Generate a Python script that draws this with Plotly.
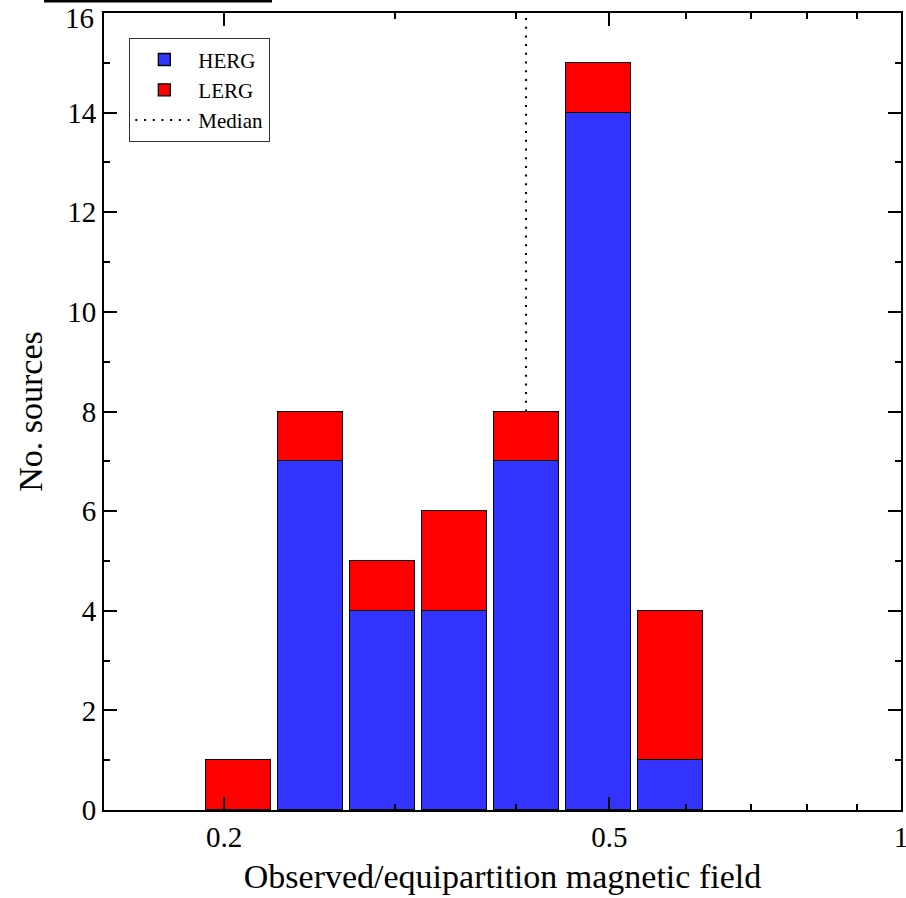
import numpy as np
import plotly.graph_objects as go

# Histogram bins (log-spaced), centers
bin_centers = [0.2071, 0.2457, 0.2916, 0.3460, 0.4106, 0.4873, 0.5781]
herg = [0, 7, 4, 4, 7, 14, 1]
lerg = [1, 1, 1, 2, 1, 1, 3]
median_value = 0.410
bin_dex = 0.0743          # bin width in log10 units
x_major = [0.2, 0.5, 1]
x_major_text = ["0.2", "0.5", "1"]
x_minor = [0.3, 0.4, 0.6, 0.7, 0.8, 0.9]
x_range = [0.1503, 1.0]
y_range = [0, 16]
y_ticks = [0, 2, 4, 6, 8, 10, 12, 14, 16]

FONT = "Liberation Serif"
lx = np.log10(bin_centers)

fig = go.Figure()
fig.add_trace(go.Bar(
    x=lx, y=herg, width=bin_dex * 0.9, name="HERG",
    marker=dict(color="#3333ff", line=dict(color="black", width=1.3)),
))
fig.add_trace(go.Bar(
    x=lx, y=lerg, width=bin_dex * 0.9, name="LERG",
    marker=dict(color="#ff0000", line=dict(color="black", width=1.3)),
))

idx = int(np.argmin(np.abs(lx - np.log10(median_value))))
top = herg[idx] + lerg[idx]
fig.add_trace(go.Scatter(
    x=[np.log10(median_value)] * 2, y=[top, y_range[1]],
    mode="lines", name="Median", xaxis="x2", yaxis="y",
    line=dict(color="black", width=2, dash="2px,6.7px"),
))

xr = [float(np.log10(x_range[0])), float(np.log10(x_range[1]))]
fig.update_layout(
    width=906, height=898,
    margin=dict(l=104, r=5, t=13, b=88, autoexpand=False),
    paper_bgcolor="white", plot_bgcolor="white",
    barmode="stack", bargap=0,
    font=dict(family=FONT, color="black"),
    showlegend=True,
    legend=dict(
        x=0.0314, y=0.9686, xanchor="left", yanchor="top",
        traceorder="normal",
        bgcolor="white", bordercolor="#333333", borderwidth=1.3,
        font=dict(family=FONT, size=21, color="black"),
        itemwidth=58, tracegroupgap=0,
    ),
    xaxis=dict(
        range=xr, tickvals=list(np.log10(x_major)), ticktext=x_major_text,
        ticks="inside", ticklen=13, tickwidth=1.5, tickcolor="black",
        showline=True, linewidth=2, linecolor="black", mirror="ticks",
        showgrid=False, zeroline=False, ticklabeloverflow="allow", automargin=False,
        tickfont=dict(family=FONT, size=29),
        title=dict(text="Observed/equipartition magnetic field",
                   font=dict(family=FONT, size=34), standoff=12),
    ),
    xaxis2=dict(
        overlaying="x", anchor="y", side="bottom", range=xr,
        tickvals=list(np.log10(x_minor)), showticklabels=False,
        ticks="inside", ticklen=6, tickwidth=1.5, tickcolor="black",
        showline=True, linewidth=2, linecolor="black", mirror="ticks",
        showgrid=False, zeroline=False, automargin=False,
    ),
    yaxis=dict(
        range=y_range, tickvals=y_ticks,
        ticktext=[str(v) if v != y_range[1] else " " for v in y_ticks],
        ticks="inside", ticklen=13, tickwidth=1.5, tickcolor="black",
        minor=dict(dtick=1, ticks="inside", ticklen=6, tickwidth=1.5, tickcolor="black"),
        showline=True, linewidth=2, linecolor="black", mirror="ticks",
        showgrid=False, zeroline=False, ticklabeloverflow="allow", automargin=False,
        tickfont=dict(family=FONT, size=29),
        title=dict(text="No. sources", font=dict(family=FONT, size=34), standoff=14),
    ),
)

# top y label nudged down so it stays inside the page, as in the original
fig.add_annotation(text=str(y_range[1]), xref="paper", yref="y",
                   x=0, y=y_range[1], xanchor="right", yanchor="middle",
                   xshift=-8, yshift=-5, showarrow=False,
                   font=dict(family=FONT, size=29, color="black"))

# stray rule at the very top-left of the original image
fig.add_shape(type="line", xref="paper", yref="paper",
              x0=-0.0753, x1=0.2108, y0=1.0151, y1=1.0151,
              line=dict(color="black", width=3))

fig.write_html("out.html")
